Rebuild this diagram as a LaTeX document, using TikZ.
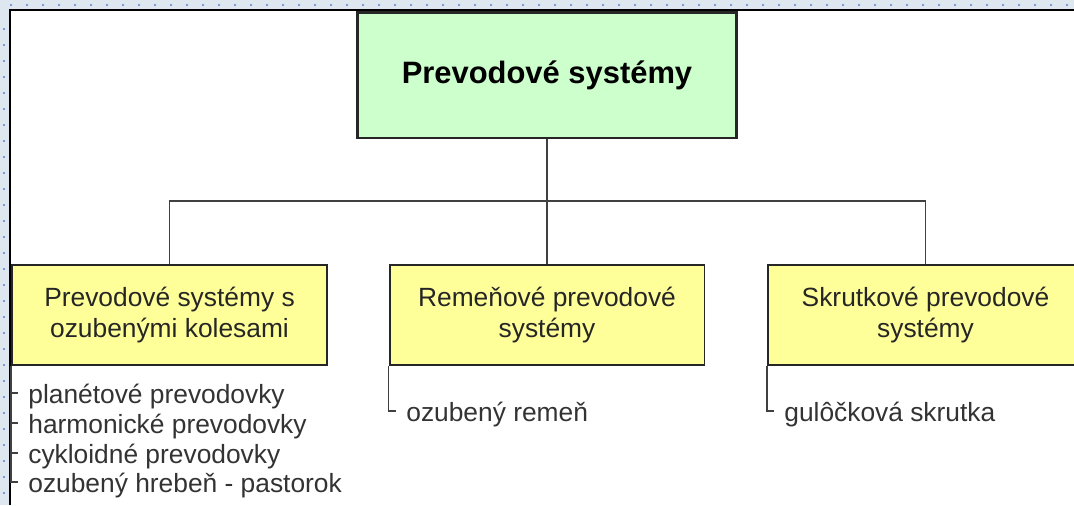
\documentclass[tikz,border=0pt]{standalone}
\usepackage{fontspec}
\setmainfont{Liberation Sans}
\definecolor{boxgreen}{RGB}{204,255,204}
\definecolor{boxyellow}{RGB}{255,255,153}
\definecolor{pagegray}{RGB}{222,230,240}
\definecolor{dotblue}{RGB}{90,130,200}

\begin{document}
\begin{tikzpicture}[x=0.02cm,y=-0.02cm,
  mainbox/.style={draw=black!85,line width=1.7pt,fill=boxgreen,minimum width=7.58cm,minimum height=2.52cm,font=\fontsize{17.6}{21}\selectfont\bfseries},
  subbox/.style={draw=black!85,line width=1.1pt,fill=boxyellow,minimum width=6.3cm,minimum height=2cm,align=center,text=black!85,font=\fontsize{15}{17.1}\selectfont},
  item/.style={anchor=west,inner xsep=0.2cm,inner ysep=0pt,text height=11.6pt,text depth=0pt,text=black!80,font=\fontsize{15}{17}\selectfont},
  link/.style={draw=black!75,line width=0.8pt}]
  \clip (0,0) rectangle (1074,505);
  % page behind the sheet
  \fill[pagegray] (0,0) rectangle (1074,505);
  \foreach \x in {11,27,...,1074} \fill[dotblue] (\x,5) circle (0.6pt);
  \foreach \y in {29,45,...,505} \fill[dotblue] (4,\y) circle (0.6pt);
  \fill[white] (10,10) rectangle (1074,505);
  \draw[line width=1.2pt] (10,505) -- (10,10) -- (1074,10);

  \node[mainbox] (top) at (547,75) {Prevodové systémy};
  \node[subbox] (left) at (169.5,315) {Prevodové systémy s\\ozubenými kolesami};
  \node[subbox] (mid) at (547,315) {Remeňové prevodové\\systémy};
  \node[subbox] (right) at (925.5,315) {Skrutkové prevodové\\systémy};

  \coordinate (bus) at (547,201);
  \draw[link] (top) -- (mid);
  \draw[link] (left.north) |- (bus) -| (right.north);

  % lists under the boxes
  \node[item] (i1) at (18,393) {planétové prevodovky};
  \node[item] (i2) at (18,423) {harmonické prevodovky};
  \node[item] (i3) at (18,453) {cykloidné prevodovky};
  \node[item] (i4) at (18,482) {ozubený hrebeň - pastorok};
  \node[item] (m1) at (396,411) {ozubený remeň};
  \node[item] (r1) at (774,411) {gulôčková skrutka};

  \draw[link] (left.south west) |- (i4.west);
  \foreach \i in {1,2,3}
    \draw[link] (left.south west |- i\i.west) -- (i\i.west);
  \draw[link] (mid.south west) |- (m1.west);
  \draw[link] (right.south west) |- (r1.west);
\end{tikzpicture}
\end{document}
